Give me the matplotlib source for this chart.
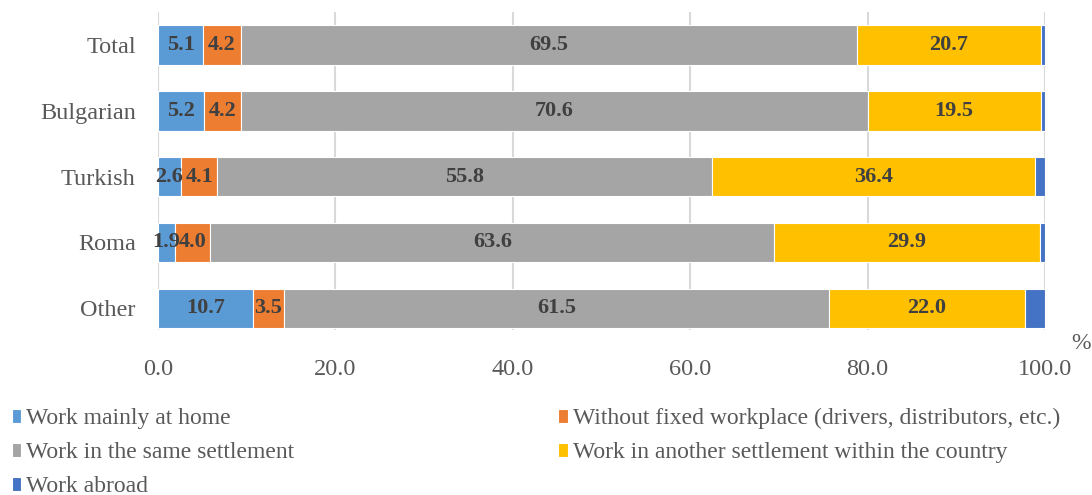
import numpy as np
import matplotlib.pyplot as plt

plt.rcParams['font.family'] = ['Liberation Serif', 'DejaVu Serif']

groups = ['Total', 'Bulgarian', 'Turkish', 'Roma', 'Other']
home = [5.1, 5.2, 2.6, 1.9, 10.7]
no_fixed = [4.2, 4.2, 4.1, 4.0, 3.5]
same = [69.5, 70.6, 55.8, 63.6, 61.5]
another = [20.7, 19.5, 36.4, 29.9, 22.0]
abroad = [0.5, 0.5, 1.1, 0.6, 2.3]

series = [
    ('Work mainly at home', home, '#5b9bd5', True),
    ('Without fixed workplace (drivers, distributors, etc.)', no_fixed, '#ed7d31', True),
    ('Work in the same settlement', same, '#a5a5a5', True),
    ('Work in another settlement within the country', another, '#ffc000', True),
    ('Work abroad', abroad, '#4472c4', False),
]

fig = plt.figure(figsize=(10.92, 4.95), dpi=100)
ax = fig.add_axes([0.1447, 0.3333, 0.8123, 0.6425])

y = np.arange(len(groups))
left = np.zeros(len(groups))
handles = []
for name, vals, col, show in series:
    b = ax.barh(y, vals, left=left, height=0.6, color=col, edgecolor='white',
                linewidth=0.8, label=name, zorder=3)
    handles.append(b)
    if show:
        for yi, l, v in zip(y, left, vals):
            ax.text(l + v / 2, yi, f'{v:.1f}', ha='center', va='center',
                    fontsize=16, fontweight='bold', color='#404040', zorder=4)
    left += np.array(vals)

ax.set_xlim(0, 100)
ax.set_ylim(4.33, -0.5)
ax.set_yticks(y)
ax.set_yticklabels(groups)
ax.set_xticks(np.arange(0, 101, 20))
ax.set_xticklabels([f'{t:.1f}' for t in np.arange(0, 101, 20)])
ax.tick_params(axis='both', length=0, labelsize=17.5, colors='#595959')
ax.tick_params(axis='x', pad=21)
ax.tick_params(axis='y', pad=16)
for s in ax.spines.values():
    s.set_visible(False)
ax.grid(axis='x', color='#d9d9d9', linewidth=1.5, zorder=0)
ax.text(1.04, -0.01, '%', transform=ax.transAxes, fontsize=17, color='#595959',
        ha='center', va='top')

order = [0, 2, 4, 1, 3]
fig.legend([handles[i] for i in order], [series[i][0] for i in order],
           loc='upper left', bbox_to_anchor=(0.002, 0.195), ncol=2, frameon=False,
           fontsize=17, labelcolor='#595959', handlelength=0.4, handleheight=0.55,
           handletextpad=0.2, columnspacing=11.2, labelspacing=0.55,
           borderaxespad=0)

fig.savefig('out.png', dpi=100)
